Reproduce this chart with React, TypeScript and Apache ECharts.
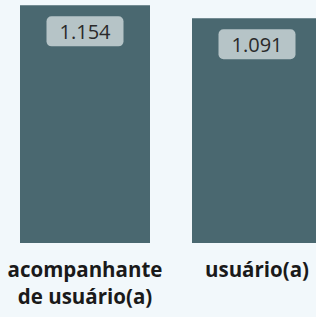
import React, { useEffect, useRef } from "react";
import * as echarts from "echarts";

const categories = ["acompanhante\nde usuário(a)", "usuário(a)"];
const values = [1.154, 1.091];
const valueLabels = ["1.154", "1.091"];

export default function App() {
  const ref = useRef<HTMLDivElement>(null);
  useEffect(() => {
    if (!ref.current) return;
    const chart = echarts.init(ref.current, null, { renderer: "svg" });
    chart.setOption({
      animation: false,
      backgroundColor: "#f2f8fb",
      grid: { left: -1, top: 0, width: 344, height: 243, containLabel: false, outerBoundsMode: "none" },
      xAxis: {
        type: "category",
        data: categories,
        axisLine: { show: false },
        axisTick: { show: false },
        axisLabel: {
          interval: 0,
          margin: 12,
          fontFamily: "Open Sans",
          fontWeight: "bold",
          fontSize: 20.5,
          lineHeight: 27,
          color: "#1a1a1a",
        },
      },
      yAxis: {
        type: "value",
        min: 0,
        max: 1.18,
        show: false,
        splitLine: { show: false },
      },
      series: [
        {
          type: "bar",
          data: values,
          barWidth: 130,
          itemStyle: { color: "#4a6870" },
          label: {
            show: true,
            position: "insideTop",
            distance: 11,
            formatter: (p: any) => valueLabels[p.dataIndex],
            fontFamily: "Open Sans",
            fontSize: 20,
            color: "#2a2a2a",
            backgroundColor: "#b6c4c7",
            borderRadius: 5,
            padding: [5, 13, 5, 13],
          },
        },
      ],
    });
    return () => chart.dispose();
  }, []);
  return <div ref={ref} style={{ width: 316, height: 317, position: "fixed", left: 0, top: 0 }} />;
}
